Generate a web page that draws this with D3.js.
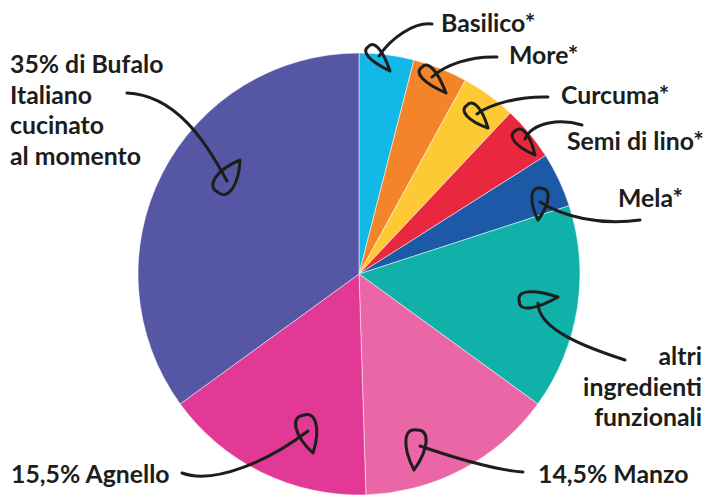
<!DOCTYPE html>
<html>
<head>
<meta charset="utf-8">
<script src="https://cdn.jsdelivr.net/npm/d3@7"></script>
<style>
  body { margin: 0; background: #fff; }
  svg { display: block; }
  text { font-family: Lato, "Noto Sans", sans-serif; font-weight: 700; fill: #1d1d1b; }
</style>
</head>
<body>
<svg id="drawing_region"></svg>
<script>
// slices, clockwise from 12 o'clock
const categories = ["Basilico*", "More*", "Curcuma*", "Semi di lino*", "Mela*",
  "altri ingredienti funzionali", "14,5% Manzo", "15,5% Agnello",
  "35% di Bufalo Italiano cucinato al momento"];
const values = [4, 4, 4, 4, 4, 15, 14.5, 15.5, 35];
const colors = ["#13b9e6", "#f3842a", "#fdc935", "#e9283f", "#1c59a7",
  "#10b1a8", "#ea66a7", "#e13995", "#5657a4"];

// label text lines for each slice
const labelLines = [
  ["Basilico*"], ["More*"], ["Curcuma*"], ["Semi di lino*"], ["Mela*"],
  ["altri", "ingredienti", "funzionali"], ["14,5% Manzo"], ["15,5% Agnello"],
  ["35% di Bufalo", "Italiano", "cucinato", "al momento"]
];

const config = { width: 713, height: 497, cx: 359, cy: 274, r: 221 };

// annotation layout: text position, curve (start, c1, c2, end), teardrop (bulb, tip, radius)
const notes = [
  { x: 441, y: 32, anchor: "start", s: [432, 24], c1: [414, 22], c2: [391, 38], e: [379, 56], b: [373, 52], t: [390, 71], rr: 6.5 },
  { x: 509, y: 64, anchor: "start", s: [497, 57], c1: [470, 56], c2: [445, 65], e: [432, 77], b: [427, 73], t: [446, 93], rr: 7 },
  { x: 561, y: 104, anchor: "start", s: [548, 97], c1: [520, 96], c2: [490, 104], e: [477, 114], b: [472, 111], t: [488, 128], rr: 7 },
  { x: 567, y: 150, anchor: "start", s: [582, 125], c1: [562, 119], c2: [533, 121], e: [525, 139], b: [520, 137], t: [535, 155], rr: 7 },
  { x: 618, y: 207, anchor: "start", s: [640, 220], c1: [600, 226], c2: [562, 216], e: [540, 202], b: [540, 197], t: [538, 220], rr: 8 },
  { x: 702, y: 365, anchor: "end", s: [625, 360], c1: [588, 348], c2: [538, 330], e: [538, 303], b: [528, 300], t: [558, 297], rr: 8 },
  { x: 538, y: 483, anchor: "start", s: [523, 472], c1: [495, 470], c2: [455, 458], e: [420, 446], b: [416, 441], t: [414, 470], rr: 10 },
  { x: 11, y: 483, anchor: "start", s: [182, 473], c1: [215, 485], c2: [270, 460], e: [308, 431], b: [306, 426], t: [313, 453], rr: 10 },
  { x: 10, y: 73, anchor: "start", s: [127, 93], c1: [175, 95], c2: [205, 140], e: [227, 181], b: [224, 183], t: [240, 160], rr: 10 }
];

const svg = d3.select("#drawing_region")
  .attr("width", config.width)
  .attr("height", config.height);

const pie = d3.pie().sort(null).value(d => d)(values);
const arc = d3.arc().innerRadius(0).outerRadius(config.r);

const chart = svg.append("g")
  .attr("transform", `translate(${config.cx}, ${config.cy})`);

chart.selectAll("path")
  .data(pie)
  .join("path")
  .attr("d", arc)
  .attr("fill", (d, i) => colors[i])
  .attr("stroke", "#fff")
  .attr("stroke-width", 0.5);

// teardrop loop around the end of each callout
function teardrop(b, t, r) {
  const dx = t[0] - b[0], dy = t[1] - b[1];
  const len = Math.hypot(dx, dy);
  const ux = dx / len, uy = dy / len;
  const nx = -uy, ny = ux;
  const p = (a, c) => [b[0] + ux * a + nx * c, b[1] + uy * a + ny * c];
  const path = d3.path();
  path.moveTo(t[0], t[1]);
  let q1 = p(r * 0.6, r * 1.4), q2 = p(-r * 1.3, r * 1.3), q3 = p(-r * 1.1, 0);
  path.bezierCurveTo(q1[0], q1[1], q2[0], q2[1], q3[0], q3[1]);
  q1 = p(-r * 1.3, -r * 1.3); q2 = p(r * 0.6, -r * 1.4);
  path.bezierCurveTo(q1[0], q1[1], q2[0], q2[1], t[0], t[1]);
  return path.toString();
}

const ann = svg.append("g")
  .attr("fill", "none")
  .attr("stroke", "#1d1d1b")
  .attr("stroke-width", 3)
  .attr("stroke-linecap", "round")
  .attr("stroke-linejoin", "round");

ann.selectAll("path.curve")
  .data(notes)
  .join("path")
  .attr("class", "curve")
  .attr("d", d => `M${d.s}C${d.c1} ${d.c2} ${d.e}`);

ann.selectAll("path.drop")
  .data(notes)
  .join("path")
  .attr("class", "drop")
  .attr("d", d => teardrop(d.b, d.t, d.rr));

const labels = svg.append("g")
  .selectAll("text")
  .data(notes)
  .join("text")
  .attr("x", d => d.x)
  .attr("y", d => d.y)
  .attr("text-anchor", d => d.anchor)
  .attr("font-size", "24.8px");

labels.selectAll("tspan")
  .data((d, i) => labelLines[i].map(l => ({ l, x: d.x })))
  .join("tspan")
  .attr("x", d => d.x)
  .attr("dy", (d, i) => i === 0 ? 0 : 30.5)
  .text(d => d.l);
</script>
</body>
</html>
